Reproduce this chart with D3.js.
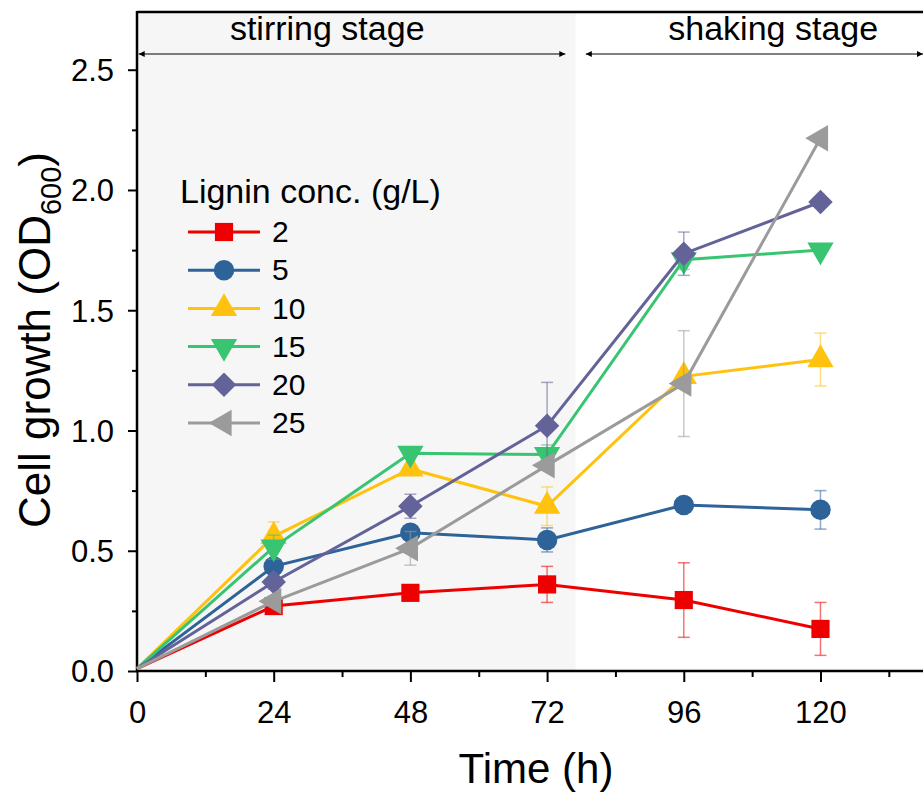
<!DOCTYPE html>
<html>
<head>
<meta charset="utf-8">
<script src="https://cdn.jsdelivr.net/npm/d3@7"></script>
<style>
  body { margin: 0; background: #fff; }
  svg { font-family: "Liberation Sans", Arial, sans-serif; }
</style>
</head>
<body>
<svg id="chart" width="924" height="796"></svg>
<script>
// data
const times = [0, 24, 48, 72, 96, 120]
const concs = ['2', '5', '10', '15', '20', '25']
const od2 = [0.01, 0.27, 0.325, 0.36, 0.295, 0.175]
const err2 = [0, 0.03, 0, 0.075, 0.155, 0.11]
const od5 = [0.01, 0.435, 0.575, 0.545, 0.69, 0.67]
const err5 = [0, 0.03, 0, 0.05, 0, 0.08]
const od10 = [0.01, 0.56, 0.84, 0.685, 1.225, 1.295]
const err10 = [0, 0.06, 0, 0.08, 0, 0.11]
const od15 = [0.01, 0.515, 0.905, 0.9, 1.71, 1.75]
const err15 = [0, 0.05, 0, 0.04, 0.04, 0]
const od20 = [0.01, 0.37, 0.685, 1.02, 1.735, 1.95]
const err20 = [0, 0.03, 0.05, 0.18, 0.09, 0]
const od25 = [0.01, 0.29, 0.51, 0.855, 1.195, 2.215]
const err25 = [0, 0.02, 0.07, 0, 0.22, 0]
const seriesVals = [od2, od5, od10, od15, od20, od25]
const seriesErr = [err2, err5, err10, err15, err20, err25]
const colors = ['#ee0000', '#2e6399', '#ffc20e', '#39c472', '#636399', '#9b9b9b']
const shapes = ['square', 'circle', 'up', 'down', 'diamond', 'left']
const xTicks = [0, 24, 48, 72, 96, 120]
const yTicks = [0, 0.5, 1.0, 1.5, 2.0, 2.5]
const stageEnd = 77

const svg = d3.select('#chart')
const m = { l: 137, r: 923, t: 12, b: 671 }
const x = d3.scaleLinear().domain([0, 138]).range([m.l, m.r])
const y = d3.scaleLinear().domain([0, 2.74]).range([m.b, m.t])

// stirring stage shading
svg.append('rect')
  .attr('x', x(0)).attr('y', m.t)
  .attr('width', x(stageEnd) - x(0)).attr('height', m.b - m.t)
  .attr('fill', '#f6f6f6')

// frame top
svg.append('line')
  .attr('x1', m.l).attr('x2', m.r).attr('y1', m.t).attr('y2', m.t)
  .attr('stroke', '#000').attr('stroke-width', 2.5)

// axes
const xAxis = svg.append('g').attr('transform', `translate(0,${m.b})`)
xAxis.call(d3.axisBottom(x).tickValues(d3.range(0, 139, 12)).tickSize(6).tickFormat(''))
xAxis.call(g => g.selectAll('.tick').filter(d => d % 24 === 0).select('line').attr('y2', 11))
xAxis.selectAll('.tick').filter(d => xTicks.includes(d))
  .append('text')
  .attr('y', 52).attr('fill', '#000').attr('text-anchor', 'middle')
  .style('font-size', '31px')
  .text(d => d)
xAxis.select('.domain').remove()
svg.append('line').attr('x1', m.l - 1).attr('x2', m.r).attr('y1', m.b).attr('y2', m.b)
  .attr('stroke', '#000').attr('stroke-width', 2.5)
xAxis.selectAll('.tick line').attr('stroke', '#000').attr('stroke-width', 2)

const yAxis = svg.append('g').attr('transform', `translate(${m.l},0)`)
yAxis.call(d3.axisLeft(y).tickValues(d3.range(0, 2.74, 0.25)).tickSize(5).tickFormat(''))
yAxis.selectAll('.tick').filter(d => yTicks.some(t => Math.abs(t - d) < 1e-6))
  .call(t => t.select('line').attr('x2', -9))
  .append('text')
  .attr('x', -23).attr('dy', '0.35em').attr('fill', '#000').attr('text-anchor', 'end')
  .style('font-size', '31px')
  .text(d => d.toFixed(1))
yAxis.select('.domain').remove()
svg.append('line').attr('x1', m.l).attr('x2', m.l).attr('y1', m.t - 1).attr('y2', m.b + 1)
  .attr('stroke', '#000').attr('stroke-width', 2.5)
yAxis.selectAll('.tick line').attr('stroke', '#000').attr('stroke-width', 2)

// axis titles
svg.append('text').attr('x', 536).attr('y', 783).attr('text-anchor', 'middle')
  .style('font-size', '42px').text('Time (h)')
const yt = svg.append('text').attr('transform', 'translate(50,340) rotate(-90)')
  .attr('text-anchor', 'middle').style('font-size', '44px')
yt.append('tspan').text('Cell growth (OD')
yt.append('tspan').attr('dy', 11).style('font-size', '29px').text('600')
yt.append('tspan').attr('dy', -11).text(')')

// stage arrows
const arrowY = 54
const defs = svg.append('defs')
defs.append('marker').attr('id', 'ah').attr('viewBox', '0 0 10 10')
  .attr('refX', 10).attr('refY', 5).attr('markerWidth', 12).attr('markerHeight', 6)
  .attr('markerUnits', 'userSpaceOnUse').attr('orient', 'auto-start-reverse')
  .append('path').attr('d', 'M0,0L10,5L0,10Z').attr('fill', '#000')
const stages = [
  { a: 0.3, b: 75.2, mid: 33.4, label: 'stirring stage' },
  { a: 78.8, b: 138, mid: 111.7, label: 'shaking stage' }
]
stages.forEach(s => {
  svg.append('line')
    .attr('x1', x(s.a)).attr('x2', x(s.b)).attr('y1', arrowY).attr('y2', arrowY)
    .attr('stroke', '#000').attr('stroke-width', 1.2)
    .attr('marker-start', 'url(#ah)').attr('marker-end', 'url(#ah)')
  svg.append('text').attr('x', x(s.mid)).attr('y', 40)
    .attr('text-anchor', 'middle')
    .style('font-size', '34px').text(s.label)
})

function markerPath(shape) {
  const sym = {
    square: d3.symbol(d3.symbolSquare, 330),
    circle: d3.symbol(d3.symbolCircle, 330),
    up: d3.symbol(d3.symbolTriangle, 300),
    down: d3.symbol(d3.symbolTriangle, 300),
    diamond: d3.symbol(d3.symbolSquare, 300),
    left: d3.symbol(d3.symbolTriangle, 300)
  }
  return sym[shape]()
}
const rot = { square: 0, circle: 0, up: 0, down: 180, diamond: 45, left: -90 }

const line = d3.line().x(d => x(d.t)).y(d => y(d.v))

seriesVals.forEach((vals, i) => {
  const pts = vals.map((v, j) => ({ t: times[j], v, e: seriesErr[i][j] }))
  const g = svg.append('g')
  // error bars
  const eb = g.selectAll('.eb').data(pts.filter(d => d.e > 0)).join('g')
    .attr('stroke', colors[i]).attr('stroke-opacity', 0.55).attr('stroke-width', 1.5)
  eb.append('line').attr('x1', d => x(d.t)).attr('x2', d => x(d.t))
    .attr('y1', d => y(d.v - d.e)).attr('y2', d => y(d.v + d.e))
  eb.append('line').attr('x1', d => x(d.t) - 6).attr('x2', d => x(d.t) + 6)
    .attr('y1', d => y(d.v - d.e)).attr('y2', d => y(d.v - d.e))
  eb.append('line').attr('x1', d => x(d.t) - 6).attr('x2', d => x(d.t) + 6)
    .attr('y1', d => y(d.v + d.e)).attr('y2', d => y(d.v + d.e))
  g.append('path').datum(pts).attr('d', line)
    .attr('fill', 'none').attr('stroke', colors[i]).attr('stroke-width', 3)
  g.selectAll('.pt').data(pts.slice(1)).join('path')
    .attr('d', markerPath(shapes[i]))
    .attr('transform', d => `translate(${x(d.t)},${y(d.v)}) rotate(${rot[shapes[i]]})`)
    .attr('fill', colors[i])
})

// legend
const lg = svg.append('g').attr('transform', 'translate(180,0)')
lg.append('text').attr('x', 0).attr('y', 203).style('font-size', '34px').text('Lignin conc. (g/L)')
concs.forEach((c, i) => {
  const ly = 232 + i * 38.2
  lg.append('line').attr('x1', 8).attr('x2', 80).attr('y1', ly).attr('y2', ly)
    .attr('stroke', colors[i]).attr('stroke-width', 3)
  lg.append('path').attr('d', markerPath(shapes[i]))
    .attr('transform', `translate(44,${ly}) rotate(${rot[shapes[i]]})`)
    .attr('fill', colors[i])
  lg.append('text').attr('x', 92).attr('y', ly).attr('dy', '0.34em')
    .style('font-size', '30px').text(c)
})
</script>
</body>
</html>
